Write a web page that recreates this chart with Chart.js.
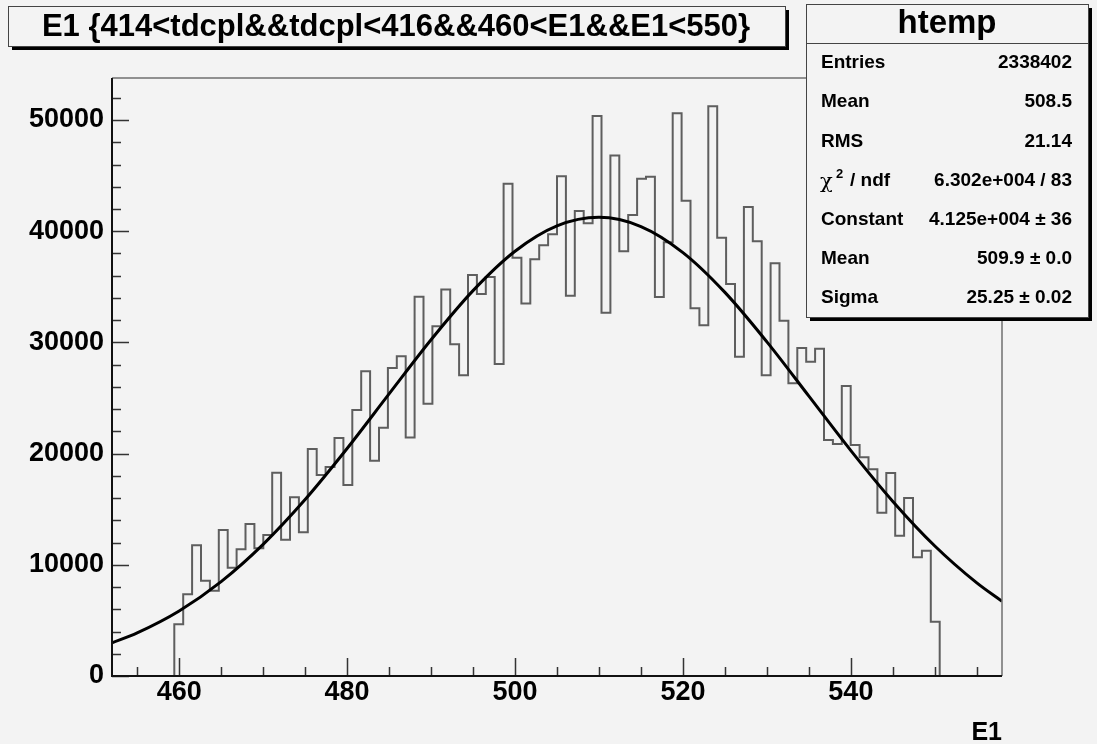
<!DOCTYPE html>
<html>
<head>
<meta charset="utf-8">
<script src="https://cdn.jsdelivr.net/npm/chart.js@4.4.1/dist/chart.umd.min.js"></script>
<style>
  html, body { margin: 0; padding: 0; background: #f3f3f3; }
  canvas { display: block; }
</style>
</head>
<body>
<canvas id="chart" width="1097" height="744"></canvas>
<script>
// histogram: 100 bins of 1.06 from 452 to 558, filled bins start at 459.42
const histLow = 459.42;
const binWidth = 1.06;
const counts = [
  4650, 7345, 11750, 8575, 7670, 13130, 9740, 11390, 13670, 11480, 12680,
  18280, 12260, 16070, 12920, 20410, 18075, 18795, 21400, 17175, 23920, 27400,
  19360, 22330, 27700, 28750, 21460, 34110, 24490, 31450, 34770, 29830, 27040,
  36060, 34350, 35880, 28060, 44270, 37620, 33510, 37470, 38730, 39720, 44940,
  34200, 41820, 40710, 50360, 32670, 46820, 38190, 41460, 44720, 44900, 34080,
  39000, 50600, 42750, 33070, 31540, 51230, 39420, 35250, 28720, 42180,
  39090, 27040, 37110, 31950, 26320, 29500, 28270, 29440, 21220, 20860, 26080,
  20770, 19670, 18590, 14690, 18260, 12620, 16010, 10670, 11270, 4880
];

// gaussian fit curve
const fitX = [452, 455, 460, 465, 470, 475, 480, 485, 490, 495, 500, 505, 510,
  515, 520, 525, 530, 535, 540, 545, 550, 555, 558];
const fitY = [2980, 3880, 5850, 8490, 11840, 15870, 20460, 25370, 30240, 34660,
  38200, 40480, 41250, 40420, 38080, 34500, 30050, 25170, 20270, 15700, 11690,
  8370, 6720];

const xTicks = [460, 480, 500, 520, 540];
const yTicks = [0, 10000, 20000, 30000, 40000, 50000];
const xRange = [452, 558];
const yRange = [0, 53780];

const titleText = 'E1 {414<tdcpl&&tdcpl<416&&460<E1&&E1<550}';
const statName = 'htemp';
const statLabels = ['Entries', 'Mean', 'RMS', 'chi2', 'Constant', 'Mean', 'Sigma'];
const statValues = ['2338402', '508.5', '21.14', '6.302e+004 / 83',
  '4.125e+004 \u00b1 36', '509.9 \u00b1 0.0', '25.25 \u00b1 0.02'];

const FONT = '"Liberation Sans", Arial, Helvetica, sans-serif';

let histPoints = [{x: histLow, y: 0}];
counts.forEach(function (c, i) {
  histPoints.push({x: histLow + i * binWidth, y: c});
});
histPoints.push({x: histLow + counts.length * binWidth, y: 0});

const fitPoints = fitX.map((x, i) => ({x: x, y: fitY[i]}));

function shadowBox(c, x, y, w, h) {
  c.fillStyle = '#000';
  c.fillRect(x + 4, y + 4, w, h);
  c.fillStyle = '#f3f3f3';
  c.fillRect(x, y, w, h);
  c.strokeStyle = '#444';
  c.lineWidth = 1;
  c.strokeRect(x + 0.5, y + 0.5, w, h);
}

const rootStyle = {
  id: 'rootStyle',
  beforeDraw(chart) {
    const c = chart.ctx;
    c.save();
    c.fillStyle = '#f3f3f3';
    c.fillRect(0, 0, chart.width, chart.height);
    c.restore();
  },
  afterDatasetsDraw(chart) {
    const c = chart.ctx, a = chart.chartArea;
    const sx = chart.scales.x, sy = chart.scales.y;
    c.save();
    c.strokeStyle = '#707070';
    c.lineWidth = 1.5;
    c.beginPath();
    c.moveTo(a.left, a.top);
    c.lineTo(a.right, a.top);
    c.lineTo(a.right, a.bottom);
    c.stroke();

    c.strokeStyle = '#333';
    c.lineWidth = 1.5;
    c.beginPath();
    for (let v = 0; v <= yRange[1]; v += 2000) {
      const py = Math.round(sy.getPixelForValue(v)) + 0.5;
      const len = v % 10000 === 0 ? 17 : 9;
      c.moveTo(a.left, py);
      c.lineTo(a.left + len, py);
    }
    for (let v = 455; v <= xRange[1]; v += 5) {
      const px = Math.round(sx.getPixelForValue(v)) + 0.5;
      const len = v % 20 === 0 ? 18 : 9;
      c.moveTo(px, a.bottom);
      c.lineTo(px, a.bottom - len);
    }
    c.stroke();

    c.strokeStyle = '#111';
    c.lineWidth = 2;
    c.beginPath();
    c.moveTo(a.left, a.top);
    c.lineTo(a.left, a.bottom);
    c.lineTo(a.right, a.bottom);
    c.stroke();
    c.restore();
  },
  afterDraw(chart) {
    const c = chart.ctx;
    c.save();
    // title box
    shadowBox(c, 8, 6, 777, 40);
    c.fillStyle = '#000';
    c.font = 'bold 31px ' + FONT;
    c.textAlign = 'center';
    c.textBaseline = 'middle';
    c.fillText(titleText, 396, 27);

    // stats box
    shadowBox(c, 806, 4, 282, 313);
    c.strokeStyle = '#444';
    c.beginPath();
    c.moveTo(806, 43.5);
    c.lineTo(1088, 43.5);
    c.stroke();
    c.fillStyle = '#000';
    c.font = 'bold 33px ' + FONT;
    c.fillText(statName, 947, 24);

    c.font = 'bold 19px ' + FONT;
    statLabels.forEach(function (lab, i) {
      const yy = 63 + i * 39.2;
      c.textAlign = 'left';
      if (lab === 'chi2') {
        c.font = '21px "DejaVu Serif", serif';
        c.fillText('\u03c7', 820, yy + 2);
        c.font = 'bold 13px ' + FONT;
        c.fillText('2', 836, yy - 6);
        c.font = 'bold 19px ' + FONT;
        c.fillText('/ ndf', 850, yy);
      } else {
        c.fillText(lab, 821, yy);
      }
      c.textAlign = 'right';
      c.fillText(statValues[i], 1072, yy);
    });

    // x axis title
    c.font = 'bold 25px ' + FONT;
    c.textAlign = 'right';
    c.textBaseline = 'alphabetic';
    c.fillText('E1', 1002, 740);
    c.restore();
  }
};

const tickFont = {family: FONT, size: 27, weight: 'bold'};

new Chart(document.getElementById('chart').getContext('2d'), {
  type: 'line',
  data: {
    datasets: [
      {
        data: fitPoints,
        order: 0,
        borderColor: '#000',
        borderWidth: 3,
        pointRadius: 0,
        cubicInterpolationMode: 'monotone',
        fill: false
      },
      {
        data: histPoints,
        order: 1,
        stepped: 'before',
        borderColor: '#5e5e5e',
        borderWidth: 2,
        borderJoinStyle: 'miter',
        pointRadius: 0,
        fill: false
      }
    ]
  },
  options: {
    responsive: false,
    animation: false,
    events: [],
    layout: {padding: {left: 0, top: 78, right: 95, bottom: 0}},
    plugins: {legend: {display: false}, tooltip: {enabled: false}},
    scales: {
      x: {
        type: 'linear',
        min: xRange[0],
        max: xRange[1],
        grid: {display: false, drawTicks: false, tickLength: 0},
        border: {display: false},
        afterBuildTicks: s => { s.ticks = xTicks.map(v => ({value: v})); },
        afterFit: s => { s.height = 68; },
        ticks: {font: tickFont, color: '#000', padding: 0, maxRotation: 0,
          callback: v => String(v)}
      },
      y: {
        min: yRange[0],
        max: yRange[1],
        grid: {display: false, drawTicks: false, tickLength: 0},
        border: {display: false},
        afterBuildTicks: s => { s.ticks = yTicks.map(v => ({value: v})); },
        afterFit: s => { s.width = 112; },
        ticks: {font: tickFont, color: '#000', padding: 8,
          callback: v => String(v)}
      }
    }
  },
  plugins: [rootStyle]
});
</script>
</body>
</html>
